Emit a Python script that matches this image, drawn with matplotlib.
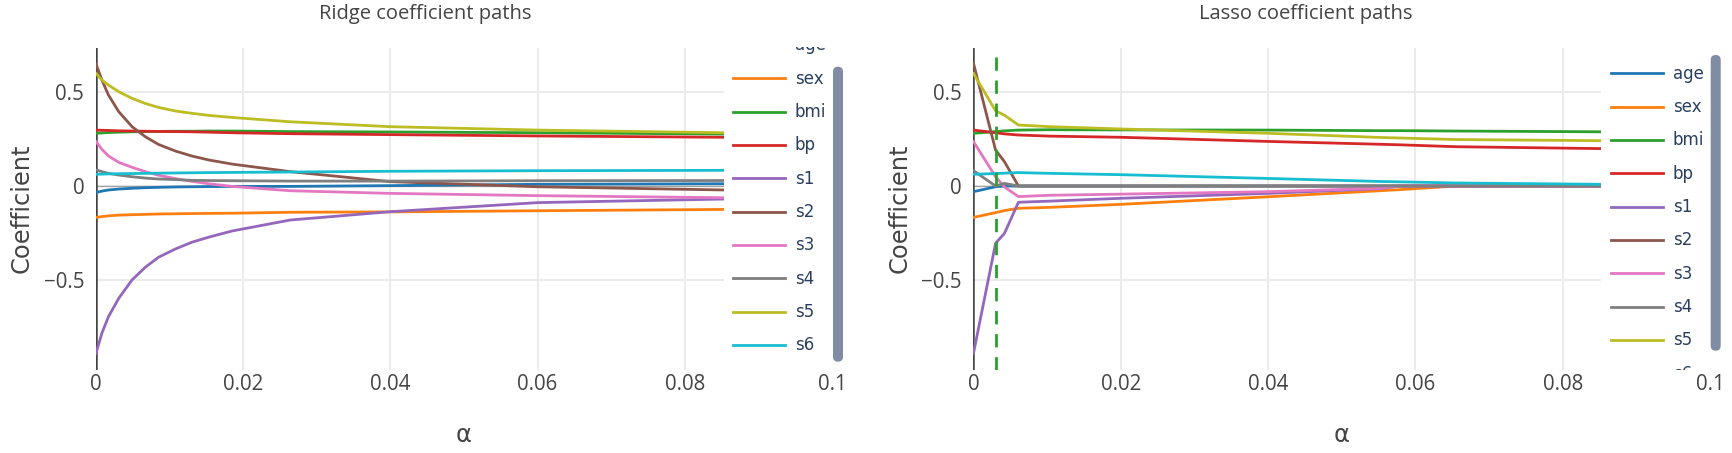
import matplotlib
matplotlib.use('Agg')
import matplotlib.pyplot as plt
from matplotlib.patches import FancyBboxPatch

# feature names and colours (plotly / d3 category10)
features = ['age', 'sex', 'bmi', 'bp', 's1', 's2', 's3', 's4', 's5', 's6']
colors = ['#1f77b4', '#ff7f0e', '#2ca02c', '#d62728', '#9467bd',
          '#8c564b', '#e377c2', '#7f7f7f', '#bcbd22', '#17becf']

# Ridge path
ridge_alpha = [0, 0.0008, 0.0017, 0.0031, 0.0049, 0.0067, 0.0085, 0.0108,
               0.013, 0.0153, 0.0185, 0.0264, 0.04, 0.06, 0.0853]
ridge_age = [-0.034, -0.027, -0.021, -0.016, -0.012, -0.009, -0.007, -0.005,
             -0.004, -0.003, -0.002, -0.002, 0.002, 0.009, 0.012]
ridge_sex = [-0.166, -0.162, -0.158, -0.154, -0.152, -0.150, -0.148, -0.147,
             -0.146, -0.145, -0.144, -0.139, -0.137, -0.131, -0.124]
ridge_bmi = [0.279, 0.281, 0.283, 0.285, 0.287, 0.288, 0.289, 0.290,
             0.290, 0.291, 0.291, 0.288, 0.286, 0.282, 0.275]
ridge_bp = [0.296, 0.295, 0.294, 0.292, 0.291, 0.290, 0.289, 0.288,
            0.287, 0.285, 0.282, 0.277, 0.272, 0.265, 0.258]
ridge_s1 = [-0.885, -0.779, -0.691, -0.594, -0.497, -0.430, -0.377, -0.333,
            -0.298, -0.271, -0.238, -0.180, -0.136, -0.088, -0.069]
ridge_s2 = [0.646, 0.561, 0.481, 0.393, 0.314, 0.261, 0.220, 0.185,
            0.159, 0.138, 0.116, 0.076, 0.023, -0.004, -0.021]
ridge_s3 = [0.235, 0.194, 0.159, 0.125, 0.099, 0.076, 0.057, 0.039,
            0.025, 0.012, -0.002, -0.025, -0.039, -0.051, -0.062]
ridge_s4 = [0.085, 0.076, 0.067, 0.058, 0.049, 0.042, 0.037, 0.034,
            0.030, 0.029, 0.028, 0.026, 0.026, 0.028, 0.029]
ridge_s5 = [0.596, 0.561, 0.534, 0.499, 0.464, 0.437, 0.416, 0.397,
            0.385, 0.374, 0.363, 0.340, 0.314, 0.296, 0.282]
ridge_s6 = [0.062, 0.063, 0.064, 0.065, 0.066, 0.067, 0.068, 0.069,
            0.070, 0.071, 0.072, 0.074, 0.078, 0.081, 0.083]

# Lasso path
lasso_alpha = [0, 0.003, 0.0042, 0.0061, 0.0104, 0.02, 0.04, 0.0552, 0.058, 0.0655, 0.0852]
lasso_age = [-0.030, -0.004, 0, 0, 0, 0, 0, 0, 0, 0, 0]
lasso_sex = [-0.166, -0.141, -0.130, -0.118, -0.113, -0.097, -0.057, -0.025, -0.019, 0, 0]
lasso_bmi = [0.279, 0.288, 0.292, 0.296, 0.298, 0.297, 0.296, 0.293, 0.293, 0.291, 0.287]
lasso_bp = [0.296, 0.282, 0.276, 0.270, 0.264, 0.258, 0.236, 0.221, 0.218, 0.208, 0.198]
lasso_s1 = [-0.885, -0.303, -0.251, -0.086, -0.080, -0.065, -0.039, -0.014, 0, 0, 0]
lasso_s2 = [0.649, 0.190, 0.129, 0, 0, 0, 0, 0, 0, 0, 0]
lasso_s3 = [0.235, 0.049, -0.005, -0.056, -0.049, -0.043, -0.030, -0.012, 0, 0, 0]
lasso_s4 = [0.081, 0, 0.014, 0, 0, 0, 0, 0, 0, 0, 0]
lasso_s5 = [0.596, 0.398, 0.375, 0.323, 0.314, 0.302, 0.279, 0.257, 0.254, 0.246, 0.240]
lasso_s6 = [0.062, 0.066, 0.068, 0.071, 0.067, 0.060, 0.040, 0.024, 0.022, 0.016, 0.009]
best_alpha = 0.0031

x_ticks = [0, 0.02, 0.04, 0.06, 0.08, 0.1]
x_ticklabels = ['0', '0.02', '0.04', '0.06', '0.08', '0.1']
y_ticks = [-0.5, 0, 0.5]
y_ticklabels = ['\u22120.5', '0', '0.5']

ridge_coefs = [ridge_age, ridge_sex, ridge_bmi, ridge_bp, ridge_s1,
               ridge_s2, ridge_s3, ridge_s4, ridge_s5, ridge_s6]
lasso_coefs = [lasso_age, lasso_sex, lasso_bmi, lasso_bp, lasso_s1,
               lasso_s2, lasso_s3, lasso_s4, lasso_s5, lasso_s6]

W, H = 1733, 453
TXT = '#2a3f5f'
DARK = '#444444'
LW = 2.0
fig = plt.figure(figsize=(W / 100, H / 100), dpi=100)


def fx(px):
    return px / W


def fy(py):
    return 1 - py / H


panels = [
    dict(title='Ridge coefficient paths', alpha=ridge_alpha, coefs=ridge_coefs,
         x0=96, x1=832, title_x=425, ylab_x=22,
         leg=(724, 850), leg_clip_top=46.5, leg_first=45.0,
         line_x=(733, 785), text_x=795, bar=(833, 843, 66.7, 361.7), vline=None),
    dict(title='Lasso coefficient paths', alpha=lasso_alpha, coefs=lasso_coefs,
         x0=973.5, x1=1710, title_x=1306, ylab_x=900,
         leg=(1601, 1733), leg_clip_top=43, leg_first=73.3,
         line_x=(1611, 1663), text_x=1672.7, bar=(1710.7, 1720.7, 55, 350.7), vline=best_alpha),
]

top, bottom = 48.3, 370
for p in panels:
    ax = fig.add_axes([fx(p['x0']), fy(bottom), fx(p['x1'] - p['x0']), (bottom - top) / H])
    ax.set_xlim(0, 0.1)
    ax.set_ylim(-0.974, 0.729)
    for s in ax.spines.values():
        s.set_visible(False)
    ax.set_xticks(x_ticks)
    ax.set_xticklabels(x_ticklabels, fontfamily='Open Sans', fontsize=14.8, color=DARK)
    ax.set_yticks(y_ticks)
    ax.set_yticklabels(y_ticklabels, fontfamily='Open Sans', fontsize=14.8, color=DARK)
    ax.tick_params(axis='x', length=0, pad=3.2)
    ax.tick_params(axis='y', length=0, pad=8.5)
    ax.grid(True, color='#ebebeb', lw=1.5)
    ax.set_axisbelow(True)
    ax.axhline(0, color='#a0a0a0', lw=0.9, zorder=1.5)
    ax.axvline(0, color=DARK, lw=1.8, zorder=1.5)

    for name, col, vals in zip(features, colors, p['coefs']):
        ax.plot(p['alpha'], vals, color=col, lw=LW, label=name, zorder=2)

    if p['vline'] is not None:
        ax.axvline(p['vline'], color='#2ca02c', lw=LW, dashes=(4.8, 3.5), zorder=3)

    fig.text(fx(p['title_x']), fy(14.4), p['title'], ha='center', va='center',
             fontsize=14.5, fontfamily='Open Sans', color=DARK)
    fig.text(fx(p['ylab_x']), fy(208), 'Coefficient', ha='center', va='center',
             rotation=90, fontsize=17.4, fontfamily='DejaVu Sans', color=DARK)
    fig.text(fx((p['x0'] + p['x1']) / 2), fy(442), '\u03b1', ha='center', va='baseline',
             fontsize=17.4, fontfamily='DejaVu Sans', color=DARK)

    # scrolled legend box over the right end of the plot
    lx0, lx1 = p['leg']
    ctop = p['leg_clip_top']
    lax = fig.add_axes([fx(lx0), fy(bottom), fx(lx1 - lx0), (bottom - ctop) / H])
    lax.set_zorder(5)
    lax.set_facecolor('white')
    lax.set_xlim(lx0, lx1)
    lax.set_ylim(bottom, ctop)
    lax.set_xticks([])
    lax.set_yticks([])
    for s in lax.spines.values():
        s.set_visible(False)
    for i, (name, col) in enumerate(zip(features, colors)):
        yy = p['leg_first'] + 33.33 * i
        lax.plot(p['line_x'], [yy, yy], color=col, lw=LW, clip_on=True)
        lax.text(p['text_x'], yy + 5.5, name, ha='left', va='baseline',
                 fontsize=12, fontfamily='DejaVu Sans', color=TXT, clip_on=True)
    bx0, bx1, by0, by1 = p['bar']
    lax.add_patch(FancyBboxPatch((bx0 + 5, by0 + 5), 0.001, by1 - by0 - 10,
                                 boxstyle='round,pad=5', fc='#808ba4', ec='none',
                                 clip_on=False))

fig.savefig('out.png', dpi=100)
